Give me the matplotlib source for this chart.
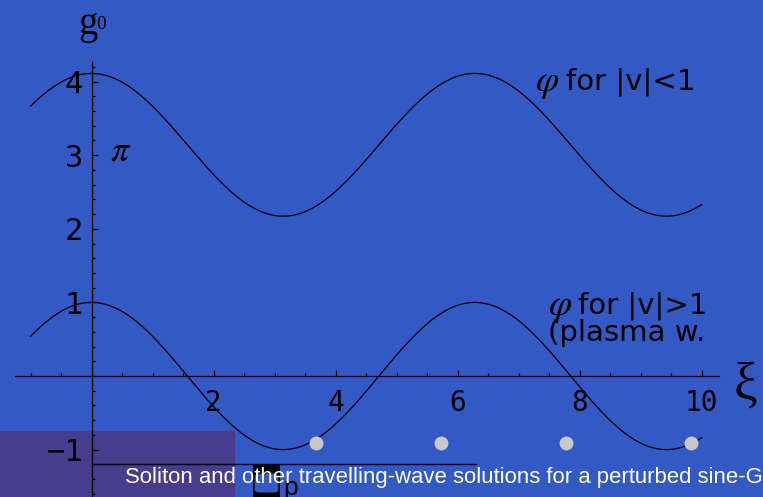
import matplotlib.pyplot as plt
import numpy as np
from matplotlib.patches import Rectangle, FancyBboxPatch

plt.rcParams["mathtext.fontset"] = "stix"

# travelling-wave profiles
xi_start, xi_end = -1.0, 10.0
upper_offset = np.pi      # centre of the |v|<1 branch
upper_amp = 0.97
lower_amp = 1.0

x_ticks = [2, 4, 6, 8, 10]
y_ticks = [-1, 1, 2, 3, 4]

nav_dots_x = [3.68, 5.73, 7.78, 9.83]
nav_dots_y = [-0.91, -0.91, -0.91, -0.91]
rule_x = [0.0, 6.3]
rule_y = [-1.196, -1.196]

caption = "Soliton and other travelling-wave solutions for a perturbed sine-Gordon equation"

bg = "#3359c5"
fig = plt.figure(figsize=(7.63, 4.97), dpi=100, facecolor=bg)
ax = fig.add_axes([0, 0, 1, 1], facecolor=bg)
ax.set_xlim(-1.5, 11.008)
ax.set_ylim(-1.644, 5.109)

xi = np.linspace(xi_start, xi_end, 600)
ax.plot(xi, upper_offset + upper_amp * np.cos(xi), color="black", lw=0.9, zorder=3)
ax.plot(xi, lower_amp * np.cos(xi), color="black", lw=0.9, zorder=3)

# axes through the origin
for side in ("top", "right"):
    ax.spines[side].set_visible(False)
ax.spines["left"].set_position(("data", 0))
ax.spines["bottom"].set_position(("data", 0))
ax.spines["left"].set_bounds(-1.7, 4.27)
ax.spines["bottom"].set_bounds(-1.26, 10.28)
for s in ("left", "bottom"):
    ax.spines[s].set_linewidth(0.9)
    ax.spines[s].set_zorder(2)

ax.set_xticks(x_ticks)
ax.set_xticklabels([str(t) for t in x_ticks], family="DejaVu Sans Mono", fontsize=20)
ax.set_xticks(np.arange(-1.0, 10.01, 0.5), minor=True)
ax.set_yticks(y_ticks)
ax.set_yticklabels([str(t).replace("-", "\u2212") for t in y_ticks], family="DejaVu Sans Mono", fontsize=22)
ax.set_yticks(np.arange(-1.6, 4.21, 0.2), minor=True)
ax.tick_params(which="both", direction="in", color="black", width=0.9)
ax.tick_params(which="major", length=4)
ax.tick_params(which="minor", length=2.5)
ax.tick_params(axis="x", pad=9)
ax.tick_params(axis="y", pad=6)

# axis labels
fig.text(0.1153, 0.95, "g", family="Liberation Serif", fontsize=28, ha="center", va="center")
fig.text(0.1324, 0.950, "0", family="Liberation Serif", fontsize=14, ha="center", va="center")
fig.text(745 / 763, 1 - 385 / 497, "ξ", family="Liberation Serif", fontsize=38, ha="center", va="center")
ax.text(0.48, 3.07, r"$\pi$", fontsize=26, ha="center", va="center")

# curve annotations
ax.text(7.27, 3.98, r"$\varphi$", fontsize=27, va="center")
ax.text(7.78, 4.0, "for |v|<1", family="DejaVu Sans", fontsize=21, va="center")
ax.text(7.48, 0.94, r"$\varphi$", fontsize=27, va="center")
ax.text(7.98, 0.96, "for |v|>1", family="DejaVu Sans", fontsize=21, va="center")
ax.text(7.48, 0.58, "(plasma w.", family="DejaVu Sans", fontsize=21, va="center")

# slide furniture
fig.patches.append(Rectangle((0, 0), 235 / 763, 66 / 497, transform=fig.transFigure,
                             facecolor="#483c8c", edgecolor="none", zorder=0))
ax.set_zorder(1)
ax.patch.set_alpha(0)
fig.patches.append(Rectangle((0, 0), 1, 1, transform=fig.transFigure, facecolor=bg,
                             edgecolor="none", zorder=-1))

ax.plot(nav_dots_x, nav_dots_y, "o", color="#c8c8c8", ms=10, mec="none", zorder=4)
ax.plot(rule_x, rule_y, color="black", lw=1.0, zorder=4)

ax.add_patch(Rectangle((253 / 763, 0), 27 / 763, 32 / 497, transform=fig.transFigure,
                       facecolor="black", edgecolor="none", zorder=4))
ax.add_patch(FancyBboxPatch((257 / 763, 6 / 497), 19 / 763, 16 / 497,
                            boxstyle="round,pad=0.003,rounding_size=0.006",
                            transform=fig.transFigure, facecolor=bg, edgecolor="none", zorder=4))
fig.text(283 / 763, 2 / 497, "p", family="Liberation Sans", fontsize=19, va="baseline", zorder=5)

fig.text(125 / 763, 1 - 477 / 497, caption, family="Liberation Sans", fontsize=15.9,
         color="white", va="center", zorder=6)

fig.savefig("out.png", dpi=100, facecolor=bg)
